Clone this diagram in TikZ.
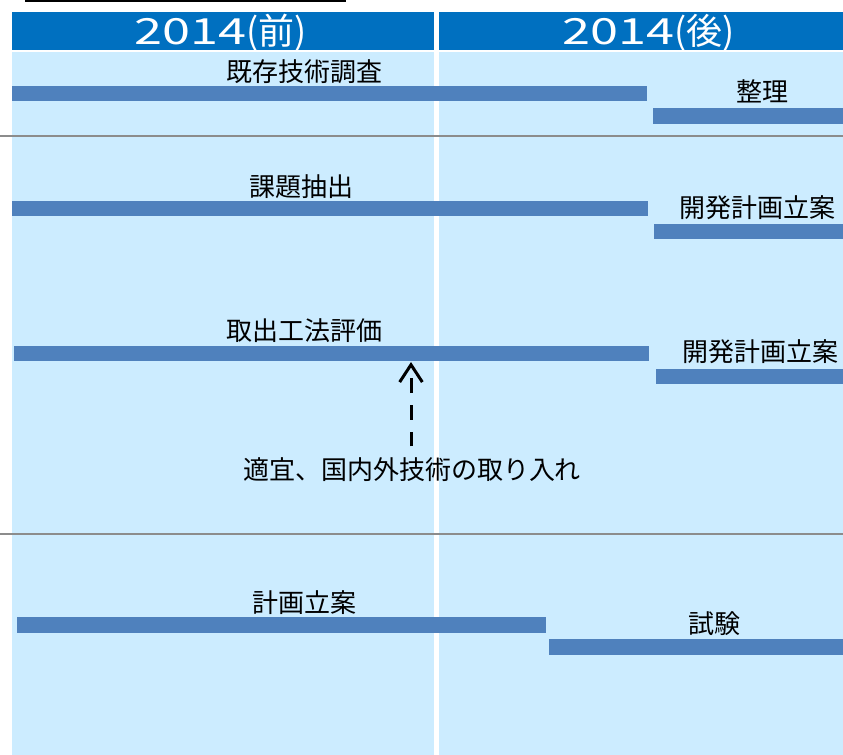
\documentclass[tikz,border=0pt]{standalone}
\usepackage{fontspec}
\usetikzlibrary{arrows.meta,positioning}
\newfontfamily\cjk{Noto Sans CJK JP}
\newfontfamily\cjkwide[FakeStretch=1.4]{Noto Sans CJK JP}
\definecolor{hdblue}{HTML}{0070C0}
\definecolor{colblue}{HTML}{CCECFF}
\definecolor{barblue}{HTML}{4F81BD}
\definecolor{rulegray}{HTML}{8C8C8C}

\begin{document}
\begin{tikzpicture}[
  x=0.75pt, y=-0.75pt,
  header/.style={fill=hdblue},
  column/.style={fill=colblue},
  bar/.style={fill=barblue},
  divider/.style={draw=rulegray, line width=1.5pt},
  headtext/.style={font=\cjk\fontsize{27}{30}\selectfont, text=white, inner sep=0pt},
  task/.style={font=\cjk\fontsize{19.5}{22}\selectfont, inner sep=1pt},
  dasharrow/.style={-{Straight Barb[length=13pt,width=17pt,line width=2.25pt]},
                    line width=2.25pt, dash pattern=on 11pt off 9pt},
]
  \useasboundingbox (0,0) rectangle (843,755);

  % Title rule and column headers.
  \fill[black] (25,0) rectangle (346,2);
  \fill[header] (12,12) rectangle (434,50);
  \fill[header] (439,12) rectangle (843,50);
  \node[headtext] (h1) at (221,33) {{\cjkwide 2014}(前)};
  \node[headtext] (h2) at (649,33) {{\cjkwide 2014}(後)};

  % Column backgrounds.
  \fill[column] (12,52) rectangle (434,755);
  \fill[column] (439,52) rectangle (843,755);

  % Row dividers.
  \draw[divider] (0,136) -- (843,136);
  \draw[divider] (0,534) -- (843,534);

  % Row 1.
  \fill[bar] (12,86) rectangle (647,101);
  \fill[bar] (653,108) rectangle (843,124);
  \node[task] (t1a) at (304,72) {既存技術調査};
  \node[task] (t1b) at (762,91) {整理};

  % Row 2.
  \fill[bar] (12,201) rectangle (648,216);
  \fill[bar] (654,224) rectangle (843,239);
  \node[task] (t2a) at (301,187) {課題抽出};
  \node[task] (t2b) at (757,208) {開発計画立案};

  % Row 3.
  \fill[bar] (14,346) rectangle (649,361);
  \fill[bar] (656,369) rectangle (843,384);
  \node[task] (t3a) at (304,331) {取出工法評価};
  \node[task] (t3b) at (760,352) {開発計画立案};
  \coordinate (tip3) at (411,362);
  \node[task] (note) at (412,470) {適宜、国内外技術の取り入れ};
  \draw[dasharrow] (note.north -| tip3) ++(0,-10) -- (tip3);

  % Row 4.
  \fill[bar] (17,617) rectangle (546,633);
  \fill[bar] (549,639) rectangle (843,655);
  \node[task] (t4a) at (304,603) {計画立案};
  \node[task] (t4b) at (714,624) {試験};

\end{tikzpicture}
\end{document}
